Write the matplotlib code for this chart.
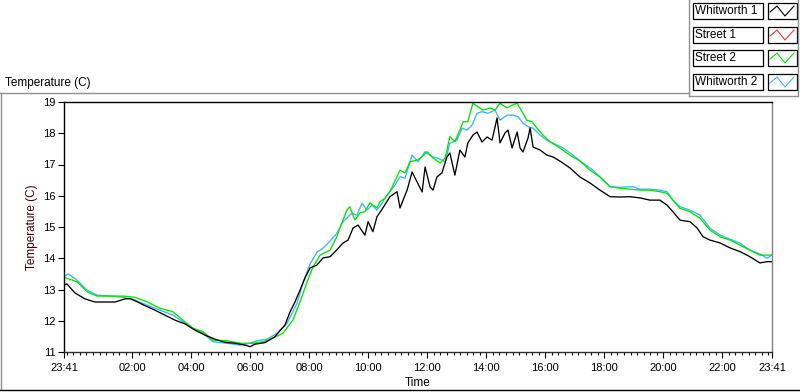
import matplotlib
matplotlib.use("Agg")
import numpy as np
from matplotlib import pyplot as plt
from matplotlib.lines import Line2D
from matplotlib.patches import Rectangle

## --- data (hours since 23:41, degrees C) --- ##

series_names = ["Whitworth 1", "Street 1", "Street 2", "Whitworth 2"]
series_colors = ["#000000", "#ff3030", "#00e600", "#3cb4ff"]

whitworth1_h = [0.00, 0.10, 0.37, 0.71, 1.05, 1.39, 1.73, 2.07, 2.24, 2.41, 2.75, 3.08, 3.42, 3.76,
                4.10, 4.44, 4.78, 5.12, 5.46, 5.80, 6.14, 6.31, 6.47, 6.81, 7.15, 7.32, 7.49, 7.66,
                7.83, 8.00, 8.17, 8.34, 8.57, 8.78, 9.02, 9.24, 9.46, 9.63, 9.80, 9.97, 10.20, 10.31,
                10.47, 10.61, 10.81, 11.05, 11.29, 11.39, 11.63, 11.80, 11.97, 12.14, 12.24, 12.41,
                12.51, 12.64, 12.81, 12.98, 13.08, 13.25, 13.42, 13.59, 13.69, 13.86, 14.00, 14.17,
                14.34, 14.51, 14.68, 14.78, 14.95, 15.05, 15.19, 15.36, 15.46, 15.56, 15.73, 15.80,
                15.90, 16.14, 16.37, 16.58, 16.81, 17.15, 17.49, 17.83, 18.17, 18.51, 18.85, 19.19,
                19.53, 19.86, 20.20, 20.44, 20.64, 20.88, 21.22, 21.46, 21.66, 21.90, 22.24, 22.58,
                22.92, 23.25, 23.59, 23.83, 24.00]
whitworth1_t = [13.14, 13.18, 12.89, 12.70, 12.60, 12.60, 12.60, 12.70, 12.71, 12.64, 12.48, 12.34,
                12.18, 12.02, 11.90, 11.70, 11.54, 11.41, 11.31, 11.28, 11.22, 11.17, 11.25, 11.30,
                11.49, 11.68, 11.86, 12.28, 12.60, 12.98, 13.37, 13.69, 13.78, 14.01, 14.05, 14.26,
                14.49, 14.58, 14.97, 15.06, 14.74, 15.17, 14.85, 15.33, 15.61, 15.97, 16.13, 15.61,
                16.18, 16.76, 16.44, 16.12, 16.92, 16.28, 16.18, 16.60, 16.73, 17.24, 17.37, 16.66,
                17.46, 17.24, 17.69, 17.94, 18.04, 17.72, 17.88, 17.78, 18.49, 17.69, 18.01, 18.10,
                17.53, 18.04, 17.53, 17.40, 17.85, 18.17, 17.56, 17.46, 17.30, 17.24, 17.11, 16.89,
                16.60, 16.41, 16.18, 15.97, 15.96, 15.97, 15.93, 15.86, 15.86, 15.70, 15.49, 15.22,
                15.17, 14.97, 14.69, 14.58, 14.49, 14.33, 14.21, 14.05, 13.85, 13.89, 13.89]

# Street 1 is listed in the legend but no trace shows on the chart
street1_h = []
street1_t = []

street2_h = [0.00, 0.44, 0.78, 1.12, 1.56, 2.00, 2.41, 2.81, 3.25, 3.69, 4.03, 4.37, 4.71, 5.05,
             5.53, 5.97, 6.41, 6.75, 7.08, 7.42, 7.76, 8.00, 8.24, 8.44, 8.68, 9.02, 9.25, 9.42,
             9.59, 9.69, 9.86, 10.03, 10.20, 10.37, 10.61, 10.71, 10.88, 11.05, 11.39, 11.56,
             11.73, 11.97, 12.14, 12.31, 12.51, 12.75, 12.92, 13.08, 13.25, 13.42, 13.53, 13.69,
             13.86, 14.03, 14.20, 14.44, 14.61, 14.78, 15.02, 15.19, 15.36, 15.53, 15.69, 15.86,
             16.03, 16.24, 16.47, 16.81, 17.15, 17.49, 17.83, 18.17, 18.51, 18.85, 19.19, 19.53,
             19.86, 20.20, 20.44, 20.64, 20.88, 21.22, 21.56, 21.90, 22.24, 22.58, 22.92, 23.25,
             23.59, 24.00]
street2_t = [13.39, 13.25, 12.93, 12.79, 12.79, 12.79, 12.75, 12.61, 12.40, 12.29, 12.02, 11.76,
             11.65, 11.38, 11.36, 11.28, 11.28, 11.33, 11.44, 11.60, 12.02, 12.60, 13.24, 13.72,
             14.10, 14.26, 14.69, 15.13, 15.54, 15.65, 15.22, 15.45, 15.49, 15.77, 15.61, 15.81,
             15.92, 16.13, 16.82, 16.73, 17.09, 17.14, 17.25, 17.41, 17.21, 17.05, 17.21, 17.89,
             17.73, 18.10, 18.37, 18.37, 18.96, 18.85, 18.74, 18.81, 18.74, 18.96, 18.81, 18.90,
             18.96, 18.69, 18.42, 18.37, 18.17, 17.94, 17.73, 17.53, 17.30, 17.11, 16.82, 16.60,
             16.29, 16.24, 16.21, 16.18, 16.18, 16.13, 16.08, 15.86, 15.60, 15.49, 15.28, 14.90,
             14.69, 14.58, 14.42, 14.26, 14.10, 14.10]

whitworth2_h = [0.00, 0.14, 0.44, 0.78, 1.12, 1.56, 2.00, 2.41, 2.81, 3.25, 3.69, 4.03, 4.37, 4.71,
                5.05, 5.53, 5.97, 6.31, 6.54, 6.88, 7.22, 7.56, 7.90, 8.10, 8.34, 8.58, 8.75, 8.95,
                9.25, 9.46, 9.76, 9.93, 10.10, 10.27, 10.44, 10.61, 10.78, 10.95, 11.22, 11.39,
                11.56, 11.80, 12.00, 12.24, 12.47, 12.68, 12.92, 13.08, 13.32, 13.49, 13.66, 13.83,
                14.00, 14.17, 14.37, 14.61, 14.78, 15.02, 15.22, 15.39, 15.56, 15.73, 15.90, 16.14,
                16.37, 16.58, 16.92, 17.25, 17.59, 17.93, 18.17, 18.51, 18.85, 19.29, 19.53, 19.86,
                20.20, 20.44, 20.64, 20.88, 21.22, 21.56, 21.90, 22.24, 22.58, 22.92, 23.25, 23.59,
                23.83, 24.00]
whitworth2_t = [13.41, 13.50, 13.30, 12.98, 12.82, 12.79, 12.75, 12.66, 12.50, 12.34, 12.18, 11.97,
                11.76, 11.60, 11.33, 11.28, 11.22, 11.28, 11.36, 11.41, 11.60, 11.92, 12.56, 13.21,
                13.82, 14.20, 14.30, 14.48, 14.80, 15.17, 15.44, 15.38, 15.76, 15.54, 15.70, 15.54,
                15.76, 16.02, 16.34, 16.61, 16.56, 17.30, 17.09, 17.41, 17.25, 17.20, 17.09, 17.68,
                17.78, 18.16, 18.10, 18.26, 18.64, 18.69, 18.64, 18.74, 18.42, 18.58, 18.58, 18.53,
                18.32, 18.21, 18.16, 17.94, 17.78, 17.68, 17.53, 17.30, 17.05, 16.82, 16.60, 16.29,
                16.27, 16.29, 16.21, 16.21, 16.18, 16.13, 15.86, 15.65, 15.54, 15.38, 14.96, 14.74,
                14.61, 14.48, 14.26, 14.14, 14.00, 14.10]

tick_labels = ["23:41", "02:00", "04:00", "06:00", "08:00", "10:00", "12:00",
               "14:00", "16:00", "18:00", "20:00", "22:00", "23:41"]
tick_hours = [0.0] + [2 + 19 / 60 + 2 * k for k in range(11)] + [24.0]

W, H = 800, 392


def fx(x):
    return x / W


def fy(y):
    return 1 - y / H


fig = plt.figure(figsize=(W / 100, H / 100), dpi=100)
plt.rcParams["font.family"] = ["Liberation Sans", "DejaVu Sans"]

ax = fig.add_axes([fx(64), fy(352), fx(772) - fx(64), fy(102) - fy(352)])

series = [
    (whitworth1_h, whitworth1_t),
    (street1_h, street1_t),
    (street2_h, street2_t),
    (whitworth2_h, whitworth2_t),
]
# draw in reverse so black sits on top
for (h, t), c in reversed(list(zip(series, series_colors))):
    ax.plot(h, t, color=c, lw=0.95)

ax.set_xlim(0, 24)
ax.set_ylim(11, 19)
ax.set_yticks(range(11, 20))
ax.set_xticks(tick_hours, tick_labels)
minor = [tick_hours[1] + k * 2 / 9 for k in range(-10, 100)]
minor = [m for m in minor if 0 < m < 24]
ax.set_xticks(minor, minor=True)

ax.tick_params(axis="both", direction="out", labelsize=8, colors="black")
ax.tick_params(axis="y", length=4, width=0.8, pad=2)
ax.tick_params(axis="x", which="major", length=4, width=0.8, pad=4)
ax.tick_params(axis="x", which="minor", length=2.5, width=0.8)

for side in ["left", "top"]:
    ax.spines[side].set_color("black")
    ax.spines[side].set_linewidth(1.0)
ax.spines["right"].set_color("#808080")
ax.spines["bottom"].set_color("#303030")
ax.spines["right"].set_linewidth(1.0)
ax.spines["bottom"].set_linewidth(1.0)

ax.set_xlabel("Time", fontsize=8.5, labelpad=3)
ax.set_ylabel("Temperature (C)", fontsize=8.5, color="#400000", labelpad=4)

fig.text(fx(5), fy(83), "Temperature (C)", fontsize=8.5, va="center", ha="left")

# outer frame like the front panel
frame = [
    ((0, 689), (92.5, 92.5), "#909090"),
    ((1, 1), (92.5, 389), "#909090"),
    ((0, 800), (389.5, 389.5), "#000000"),
    ((689, 689), (0, 95.5), "#909090"),
    ((689, 797), (95.5, 95.5), "#909090"),
    ((797.5, 797.5), (0, 95.5), "#909090"),
]
for xs, ys, c in frame:
    fig.add_artist(Line2D([fx(x) for x in xs], [fy(y) for y in ys], color=c, lw=1.0))

# legend boxes
row_tops = [3, 27, 50, 74]
for name, c, top in zip(series_names, series_colors, row_tops):
    fig.add_artist(Rectangle((fx(692.5), fy(top + 16)), fx(763) - fx(692.5), fy(top) - fy(top + 16),
                             fill=False, ec="black", lw=0.9))
    fig.text(fx(695), fy(top + 8), name, fontsize=8.5, va="center", ha="left")
    fig.add_artist(Rectangle((fx(767.5), fy(top + 16)), fx(797) - fx(767.5), fy(top) - fy(top + 16),
                             fill=False, ec="black", lw=0.9))
    zx = [770, 777, 785, 794]
    zy = [top + 9, top + 3, top + 13, top + 3]
    fig.add_artist(Line2D([fx(x) for x in zx], [fy(y) for y in zy], color=c, lw=0.8))

plt.savefig("out.png", dpi=100)
